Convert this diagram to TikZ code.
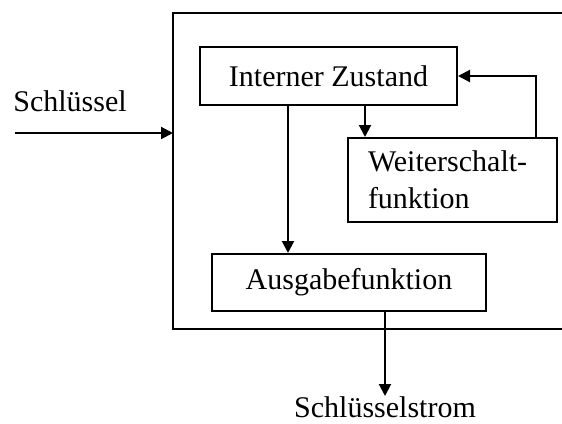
\documentclass[tikz,border=0pt]{standalone}
\usepackage{fontspec}
\setmainfont{Liberation Serif}
\usetikzlibrary{arrows.meta}
\tikzset{
  blk/.style={draw, line width=1pt, inner sep=0pt, font=\fontsize{15}{18.5}\selectfont},
  arr/.style={line width=1pt, -{Triangle[length=6pt,width=6pt]}},
  lbl/.style={font=\fontsize{15}{18.5}\selectfont}
}
\begin{document}
\begin{tikzpicture}[x=0.5pt, y=-0.5pt]
\useasboundingbox (0,0) rectangle (562,423);
\fill[white] (0,0) rectangle (562,423);
\begin{scope}[line width=1pt]
\draw (562,13) -| (173,329) -- (562,329);
\path (328.5,76) node[blk, minimum width=128.5pt, minimum height=29pt] (iz) {Interner Zustand};
\path (452.5,180) node[blk, minimum width=104.5pt, minimum height=42pt, text width=84.5pt, inner xsep=10pt, align=left] (wf) {Weiterschalt-\\funktion};
\path (349,282.5) node[blk, minimum width=137pt, minimum height=28.5pt] (ag) {Ausgabefunktion};
\path (70,101) node[lbl] (key) {Schlüssel};
\path (385,407) node[lbl] (ks) {Schlüsselstrom};
\coordinate (in) at (15,133);
\coordinate (out) at (385,396);
\end{scope}
\draw[arr] (in) -- (173,133);
\draw[arr] (iz.south -| 365,0) -- (wf.north -| 365,0);
\draw[arr] (iz.south -| 288,0) -- (ag.north -| 288,0);
\draw[arr] (wf.north -| 536,0) |- (iz.east);
\draw[arr] (ag.south -| 385,0) -- (out);
\end{tikzpicture}
\end{document}
